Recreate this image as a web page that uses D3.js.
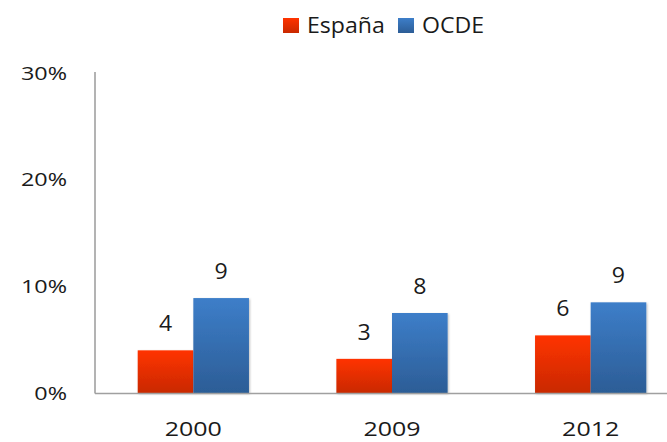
<!DOCTYPE html>
<html>
<head>
<meta charset="utf-8">
<script src="https://cdn.jsdelivr.net/npm/d3@7"></script>
<style>
  html, body { margin: 0; padding: 0; background: #ffffff; }
  svg { display: block; }
  text { font-family: "Open Sans", sans-serif; fill: #1a1a1a; font-weight: 500; }
</style>
</head>
<body>
<svg id="chart" width="667" height="442"></svg>
<script>
// ---- data ----
const years = ["2000", "2009", "2012"];
const seriesNames = ["España", "OCDE"];
const espana = [4.0, 3.2, 5.4];
const ocde = [8.9, 7.5, 8.5];
const espanaLabels = ["4", "3", "6"];
const ocdeLabels = ["9", "8", "9"];
const yTicks = [0, 10, 20, 30];

const colors = { "España": ["#ff3300", "#c92900"], "OCDE": ["#3d7ec9", "#2c5d96"] };

const svg = d3.select("#chart");
const W = 667, H = 442;

const defs = svg.append("defs");
seriesNames.forEach((s, i) => {
  const g = defs.append("linearGradient").attr("id", "grad" + i)
    .attr("x1", 0).attr("y1", 0).attr("x2", 0).attr("y2", 1);
  g.append("stop").attr("offset", "0%").attr("stop-color", colors[s][0]);
  g.append("stop").attr("offset", "100%").attr("stop-color", colors[s][1]);
});
const sh = defs.append("filter").attr("id", "shadow").attr("x", "-20%").attr("y", "-20%").attr("width", "140%").attr("height", "140%");
sh.append("feDropShadow").attr("dx", 1).attr("dy", 1).attr("stdDeviation", 1.2).attr("flood-color", "#000").attr("flood-opacity", 0.25);

const y = d3.scaleLinear().domain([0, 30]).range([393, 73]);
const x0 = d3.scaleBand().domain(years).range([94, 690]).paddingInner(0.44).paddingOuter(0.22);
const x1 = d3.scaleBand().domain(seriesNames).range([0, x0.bandwidth()]);

// scaled text helper (reference text is horizontally wide)
function stext(sel, x, yy, str, size, anchor, sx) {
  return sel.append("text")
    .attr("transform", `translate(${x},${yy}) scale(${sx},1)`)
    .attr("text-anchor", anchor)
    .attr("font-size", size)
    .text(str);
}

// y axis labels
const yAxis = d3.axisLeft(y).tickValues(yTicks).tickSize(0).tickFormat(d => d + "%");
const yg = svg.append("g").attr("transform", "translate(95,0)").call(yAxis);
yg.select(".domain").remove();
yg.selectAll(".tick text").remove();
yTicks.forEach(t => {
  stext(svg, 67, y(t) + 6.5, t + "%", 18, "end", 1.3);
});

// bars
const data = years.map((yr, i) => ({ year: yr, vals: [
  { s: "España", v: espana[i], lab: espanaLabels[i], gi: 0 },
  { s: "OCDE", v: ocde[i], lab: ocdeLabels[i], gi: 1 }
]}));

const groups = svg.append("g").selectAll("g").data(data).join("g")
  .attr("transform", d => `translate(${x0(d.year)},0)`);
groups.selectAll("rect").data(d => d.vals).join("rect")
  .attr("x", d => x1(d.s))
  .attr("width", x1.bandwidth())
  .attr("y", d => y(d.v))
  .attr("height", d => y(0) - y(d.v))
  .attr("fill", d => `url(#grad${d.gi})`)
  .attr("filter", "url(#shadow)");
groups.each(function(d) {
  const g = d3.select(this);
  d.vals.forEach(v => {
    stext(g, x1(v.s) + x1.bandwidth() / 2, y(v.v) - 19, v.lab, 21, "middle", 1.1);
  });
});

// axis lines
svg.append("line").attr("x1", 95).attr("x2", 95).attr("y1", 72).attr("y2", 393.5)
  .attr("stroke", "#a0a0a0").attr("stroke-width", 1.6);
const xAxis = d3.axisBottom(x0).tickSize(0).tickPadding(0);
const xg = svg.append("g").attr("transform", "translate(0,393)").call(xAxis);
xg.select(".domain").remove();
xg.selectAll(".tick text").remove();
svg.append("line").attr("x1", 95).attr("x2", W).attr("y1", 393.5).attr("y2", 393.5)
  .attr("stroke", "#a0a0a0").attr("stroke-width", 1.6);
years.forEach(yr => {
  stext(svg, x0(yr) + x0.bandwidth() / 2, 436, yr, 20, "middle", 1.25);
});

// legend
const legendX = [283, 398];
seriesNames.forEach((s, i) => {
  svg.append("rect").attr("x", legendX[i]).attr("y", 18).attr("width", 16).attr("height", 15)
    .attr("fill", `url(#grad${i})`);
  stext(svg, legendX[i] + 24, 33, s, 21, "start", 1.1);
});
</script>
</body>
</html>
